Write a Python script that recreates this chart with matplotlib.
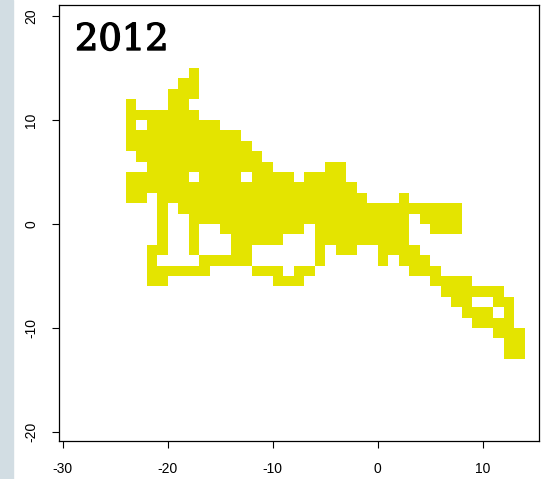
import numpy as np
import matplotlib
matplotlib.use("Agg")
import matplotlib.pyplot as plt
import matplotlib.patheffects as pe
from matplotlib.colors import ListedColormap
from matplotlib.patches import Rectangle

plt.rcParams["axes.unicode_minus"] = False

# occupied unit cells, one entry per grid row: (row y, [(first x, last x), ...])
cell_rows = [
    (14, [(-18, -18)]),
    (13, [(-19, -18)]),
    (12, [(-20, -18)]),
    (11, [(-24, -24), (-20, -19)]),
    (10, [(-24, -18)]),
    (9, [(-24, -24), (-22, -16)]),
    (8, [(-24, -14)]),
    (7, [(-24, -13)]),
    (6, [(-23, -12)]),
    (5, [(-22, -11), (-5, -4)]),
    (4, [(-24, -19), (-17, -14), (-12, -9), (-7, -4)]),
    (3, [(-24, -3)]),
    (2, [(-24, -23), (-21, -2), (2, 2)]),
    (1, [(-21, -21), (-19, 7)]),
    (0, [(-21, -21), (-18, 2), (4, 7)]),
    (-1, [(-21, -21), (-18, -18), (-15, -8), (-6, 2), (5, 7)]),
    (-2, [(-21, -21), (-18, -18), (-14, -10), (-6, 2)]),
    (-3, [(-22, -21), (-18, -18), (-14, -13), (-6, -6), (-4, -3), (0, 3)]),
    (-4, [(-22, -22), (-17, -13), (-6, -6), (0, 0), (2, 4)]),
    (-5, [(-22, -17), (-12, -10), (-8, -7), (3, 5)]),
    (-6, [(-22, -21), (-10, -8), (5, 8)]),
    (-7, [(6, 11)]),
    (-8, [(7, 8), (11, 12)]),
    (-9, [(8, 10), (12, 12)]),
    (-10, [(9, 12)]),
    (-11, [(11, 13)]),
    (-12, [(12, 13)]),
    (-13, [(12, 13)]),
]

x_ticks = [-30, -20, -10, 0, 10]
y_ticks = [-20, -10, 0, 10, 20]
title = "2012"
fill_color = "#e4e400"

# grid covering the occupied cells
x_edges = np.arange(-24, 15)
y_edges = np.arange(-13, 16)
grid = np.zeros((len(y_edges) - 1, len(x_edges) - 1))
for y, runs in cell_rows:
    for x0, x1 in runs:
        grid[y - y_edges[0], x0 - x_edges[0]:x1 - x_edges[0] + 1] = 1
grid = np.ma.masked_equal(grid, 0)

fig = plt.figure(figsize=(5.47, 4.79), dpi=100)
fig.patches.append(Rectangle((0, 0), 13 / 547, 1, transform=fig.transFigure,
                             color="#d2dde3", zorder=0))

ax = fig.add_axes([59 / 547, 38 / 479, 480 / 547, 436 / 479])
ax.pcolormesh(x_edges, y_edges, grid, cmap=ListedColormap([fill_color]),
              vmin=0, vmax=1)

ax.set_xlim(-30.35, 15.35)
ax.set_ylim(-20.87, 21.06)
ax.set_xticks(x_ticks)
ax.set_yticks(y_ticks)
ax.tick_params(direction="out", length=5, width=0.8, labelsize=10, pad=10)
ax.tick_params(axis="y", pad=10)
for lab in ax.get_xticklabels() + ax.get_yticklabels():
    lab.set_family("Liberation Sans")
for lab in ax.get_yticklabels():
    lab.set_rotation(90)
    lab.set_va("center")
for s in ax.spines.values():
    s.set_linewidth(0.9)

# year label, regular serif thickened a little with a thin outline
fig.text(75 / 547, 1 - 50 / 479, title, family="DejaVu Serif",
         fontsize=26.5, va="baseline",
         path_effects=[pe.withStroke(linewidth=1.0, foreground="black")])

fig.savefig("out.png", dpi=100)
